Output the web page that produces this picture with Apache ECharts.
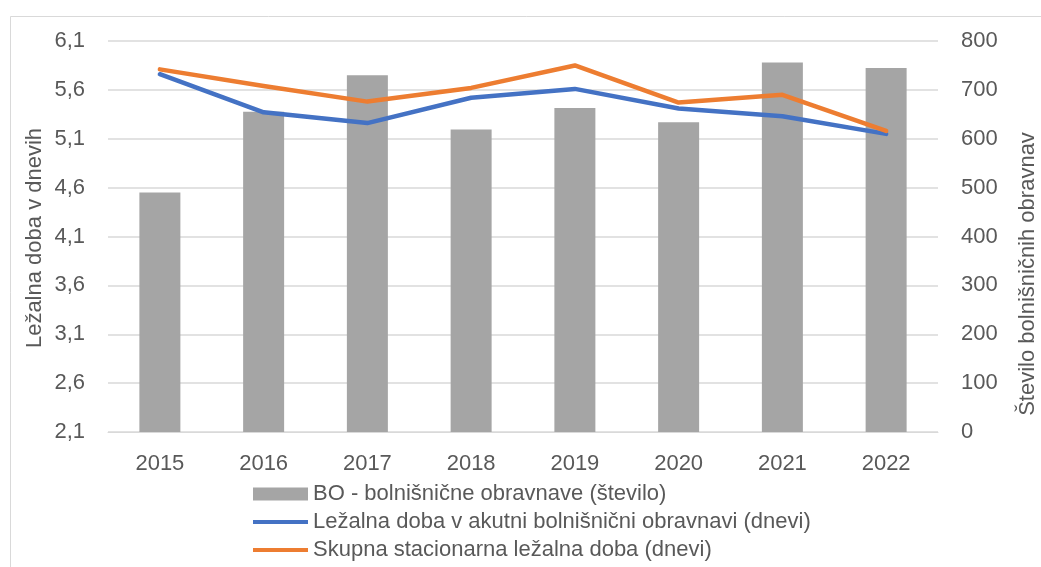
<!DOCTYPE html>
<html>
<head>
<meta charset="utf-8">
<script src="https://cdn.jsdelivr.net/npm/echarts@6/dist/echarts.min.js"></script>
<style>
  html, body { margin: 0; padding: 0; background: #ffffff; }
  #chart { width: 1041px; height: 567px; }
</style>
</head>
<body>
<div id="chart"></div>
<script>
const years = ['2015', '2016', '2017', '2018', '2019', '2020', '2021', '2022'];
const obravnave = [490, 655, 730, 619, 663, 634, 756, 745];
const lezalnaAkutna = [5.76, 5.37, 5.26, 5.52, 5.61, 5.41, 5.33, 5.15];
const lezalnaSkupna = [5.81, 5.64, 5.48, 5.62, 5.85, 5.47, 5.55, 5.18];
const leftTicks = [2.1, 2.6, 3.1, 3.6, 4.1, 4.6, 5.1, 5.6, 6.1];
const rightTicks = [0, 100, 200, 300, 400, 500, 600, 700, 800];

const seriesNames = [
  'BO - bolnišnične obravnave (število)',
  'Ležalna doba v akutni bolnišnični obravnavi (dnevi)',
  'Skupna stacionarna ležalna doba (dnevi)'
];
const leftTitle = 'Ležalna doba v dnevih';
const rightTitle = 'Število bolnišničnih obravnav';

const FONT = 'Liberation Sans';
const FS = 22;
const TXT = '#595959';
const GRID = '#d9d9d9';
const LINE_ICON = 'path://M0,0 L0.01,0 L0,0.01 Z M0,4.5 L55,4.5 L55,8.5 L0,8.5 Z M55,13 L54.99,13 L55,12.99 Z';

const chart = echarts.init(document.getElementById('chart'), null, { renderer: 'canvas' });
chart.setOption({
  backgroundColor: '#ffffff',
  animation: false,
  textStyle: { fontFamily: FONT },
  grid: { left: 108, right: 103, top: 41, bottom: 135, containLabel: false },
  graphic: [
    { type: 'rect', left: 8, top: 14, shape: { x: 0, y: 0, width: 1100, height: 600 },
      style: { fill: 'none', stroke: GRID, lineWidth: 1 }, silent: true, z: -10 },
    { type: 'text', x: 35, y: 238, rotation: Math.PI / 2,
      style: { text: leftTitle, fill: TXT, font: FS + 'px "' + FONT + '"', align: 'center', verticalAlign: 'middle' } },
    { type: 'text', x: 1028, y: 274, rotation: Math.PI / 2,
      style: { text: rightTitle, fill: TXT, font: FS + 'px "' + FONT + '"', align: 'center', verticalAlign: 'middle' } }
  ],
  legend: {
    orient: 'vertical',
    left: 253,
    top: 483,
    padding: 0,
    itemWidth: 55,
    itemHeight: 13,
    itemGap: 6,
    textStyle: { color: TXT, fontSize: FS, fontFamily: FONT, lineHeight: 22 },
    data: [
      { name: seriesNames[0], icon: 'rect' },
      { name: seriesNames[1], icon: LINE_ICON },
      { name: seriesNames[2], icon: LINE_ICON }
    ]
  },
  xAxis: {
    type: 'category',
    data: years,
    axisLine: { show: true, lineStyle: { color: GRID, width: 1 } },
    axisTick: { show: false },
    axisLabel: { color: TXT, fontSize: FS, fontFamily: FONT, margin: 21 }
  },
  yAxis: [
    {
      type: 'value',
      position: 'left',
      min: leftTicks[0],
      max: leftTicks[leftTicks.length - 1],
      axisLine: { show: false },
      axisTick: { show: false },
      splitLine: { show: false },
      axisLabel: {
        color: TXT, fontSize: FS, fontFamily: FONT, margin: 23,
        customValues: leftTicks,
        formatter: v => v.toFixed(1).replace('.', ',')
      }
    },
    {
      type: 'value',
      position: 'right',
      min: rightTicks[0],
      max: rightTicks[rightTicks.length - 1],
      interval: 100,
      axisLine: { show: false },
      axisTick: { show: false },
      splitLine: { show: true, lineStyle: { color: GRID, width: 1.5 } },
      axisLabel: { color: TXT, fontSize: FS, fontFamily: FONT, margin: 23 }
    }
  ],
  series: [
    {
      name: seriesNames[0],
      type: 'bar',
      yAxisIndex: 1,
      data: obravnave,
      barWidth: 41,
      itemStyle: { color: '#a5a5a5' },
      z: 1
    },
    {
      name: seriesNames[1],
      type: 'line',
      yAxisIndex: 0,
      data: lezalnaAkutna,
      symbol: 'none',
      itemStyle: { color: '#4472c4' },
      lineStyle: { color: '#4472c4', width: 4.5, cap: 'round', join: 'round' },
      z: 3
    },
    {
      name: seriesNames[2],
      type: 'line',
      yAxisIndex: 0,
      data: lezalnaSkupna,
      symbol: 'none',
      itemStyle: { color: '#ed7d31' },
      lineStyle: { color: '#ed7d31', width: 4.5, cap: 'round', join: 'round' },
      z: 4
    }
  ]
});
</script>
</body>
</html>
